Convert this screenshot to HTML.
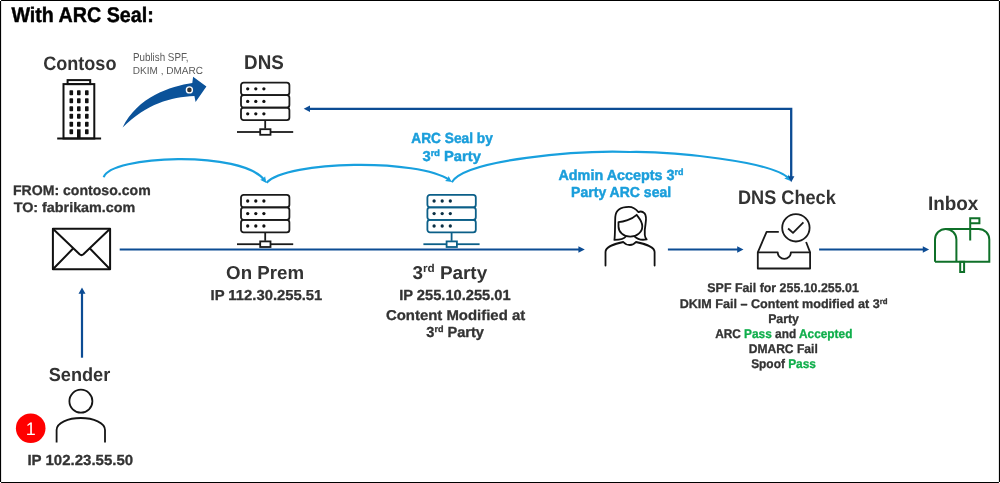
<!DOCTYPE html>
<html><head><meta charset="utf-8">
<style>
html,body{margin:0;padding:0;background:#fff;}
body{width:1000px;height:483px;overflow:hidden;position:relative;}
svg{position:absolute;left:0;top:0;will-change:transform;}
text{font-family:"Liberation Sans",sans-serif;text-rendering:geometricPrecision;}
</style></head>
<body>
<svg width="1000" height="483" viewBox="0 0 1000 483">
<defs>
  <g id="srv">
    <g fill="none" stroke-width="1.8">
    <rect x="0.9" y="0.9" width="48.4" height="12.5" rx="2.6"/>
    <rect x="0.9" y="13.4" width="48.4" height="12.5" rx="2.6"/>
    <rect x="0.9" y="25.9" width="48.4" height="12.5" rx="2.6"/>
    <line x1="25.1" y1="39" x2="25.1" y2="46.8"/>
    <line x1="-3.1" y1="50.2" x2="20" y2="50.2"/>
    <line x1="30.4" y1="50.2" x2="53.1" y2="50.2"/>
    <rect x="20.1" y="47.4" width="10.3" height="5.6"/>
    </g>
    <g stroke="none" class="dots"><circle cx="7.6" cy="7.0" r="1.65"/><circle cx="15.7" cy="7.0" r="1.65"/><circle cx="23.8" cy="7.0" r="1.65"/><circle cx="7.6" cy="19.6" r="1.65"/><circle cx="15.7" cy="19.6" r="1.65"/><circle cx="23.8" cy="19.6" r="1.65"/><circle cx="7.6" cy="32.0" r="1.65"/><circle cx="15.7" cy="32.0" r="1.65"/><circle cx="23.8" cy="32.0" r="1.65"/></g>
  </g>
  </defs>

<!-- border -->
<path d="M0,0 H1000 V1.1 H0 Z M0,481.9 H1000 V483 H0 Z M0,0 V483 H1.1 V0 Z M998.9,0 V483 H1000 V0 Z" fill="#000"/>

<!-- title -->

<!-- Contoso -->
<g fill="none" stroke="#111" stroke-width="2">
  <rect x="63.5" y="84.1" width="30.8" height="54.4"/>
  <rect x="67.6" y="80.1" width="22.6" height="4"/>
  <line x1="57.2" y1="138.5" x2="101.1" y2="138.5"/>
</g>
<g fill="#111"><rect x="69.5" y="90.2" width="3.6" height="5" rx="0.7"/><rect x="77.0" y="90.2" width="3.6" height="5" rx="0.7"/><rect x="85.0" y="90.2" width="3.6" height="5" rx="0.7"/><rect x="69.5" y="98.2" width="3.6" height="5" rx="0.7"/><rect x="77.0" y="98.2" width="3.6" height="5" rx="0.7"/><rect x="85.0" y="98.2" width="3.6" height="5" rx="0.7"/><rect x="69.5" y="106.2" width="3.6" height="5" rx="0.7"/><rect x="77.0" y="106.2" width="3.6" height="5" rx="0.7"/><rect x="85.0" y="106.2" width="3.6" height="5" rx="0.7"/><rect x="69.5" y="113.8" width="3.6" height="5" rx="0.7"/><rect x="77.0" y="113.8" width="3.6" height="5" rx="0.7"/><rect x="85.0" y="113.8" width="3.6" height="5" rx="0.7"/><rect x="69.5" y="121.7" width="3.6" height="5" rx="0.7"/><rect x="77.0" y="121.7" width="3.6" height="5" rx="0.7"/><rect x="85.0" y="121.7" width="3.6" height="5" rx="0.7"/><rect x="69.5" y="129.3" width="3.6" height="5" rx="0.7"/><rect x="85.0" y="129.3" width="3.6" height="5" rx="0.7"/><rect x="77" y="129.3" width="3.6" height="9.2"/></g>

<!-- publish text + arrow -->
<path d="M122.6,127.6 C137.2,97 170.7,86.1 192.3,83 L193.1,76.8 L206.4,86.6 L195.6,101.9 L194.4,96.1 C170.2,97.5 147.5,103.3 122.6,127.6 Z" fill="#0b5299"/>
<circle cx="189.4" cy="89.9" r="3" fill="#333" stroke="#fff" stroke-width="1.4"/>

<!-- DNS -->
<use href="#srv" x="240.1" y="81.8" stroke="#1a1a1a" fill="#111"/>

<!-- light blue arcs -->
<g fill="none" stroke="#18a0de" stroke-width="2.2">
  <path d="M103.7,177.3 C109.9,155.4 242.2,149.7 264.7,180.4"/>
  <path d="M266.5,182.8 C287.0,160.4 419.0,158.5 449.5,180.1"/>
  <path d="M451.8,182.2 C465.3,159.4 578.2,150.2 630.0,152.0 C671.1,151.3 773.2,161.1 789.0,178.6"/>
</g>
<path d="M260.1,179.8 L266.3,183.0 L265.1,176.2 L263.2,178.8 Z M445.0,180.9 L451.8,182.0 L448.6,175.9 L447.6,179.0 Z M784.2,178.4 L790.6,181.1 L788.9,174.4 L787.2,177.2 Z" fill="#18a0de"/>

<!-- return arrow DNS check -> DNS -->
<path d="M791.2,177 V108.8 H308" fill="none" stroke="#0c4c94" stroke-width="2.3"/>
<path d="M310,105.6 L303.7,108.8 L310,112 Z M788,176.2 L791.2,182.2 L794.4,176.2 Z" fill="#0c4c94"/>

<!-- ARC Seal by 3rd party -->

<!-- FROM / TO -->

<!-- envelope -->
<g fill="none" stroke="#111" stroke-width="2" stroke-linejoin="round">
  <rect x="52.9" y="228.8" width="57.2" height="40.5"/>
  <path d="M52.9,228.8 L79.6,254.3 Q81.5,256 83.4,254.3 L110.1,228.8"/>
  <path d="M52.9,269.3 L73.3,248.3 M110.1,269.3 L89.7,248.3"/>
</g>

<!-- main blue line & arrows -->
<g fill="none" stroke="#0c4c94" stroke-width="2.2">
  <path d="M119.7,249.5 H580"/>
  <path d="M667.9,249.5 H738"/>
  <path d="M819.1,249.5 H924"/>
  <path d="M82,357.7 V292"/>
</g>
<path d="M578.4,246.3 L584.8,249.5 L578.4,252.7 Z M737.2,246.3 L743.5,249.5 L737.2,252.7 Z M922.8,246.3 L929.1,249.5 L922.8,252.7 Z M78.5,293.8 L82,287.5 L85.5,293.8 Z" fill="#0c4c94"/>

<!-- On prem server -->
<use href="#srv" x="240.1" y="194" stroke="#1a1a1a" fill="#111"/>
<!-- 3rd party server -->
<use href="#srv" x="426.5" y="194" stroke="#0b5f88" fill="#0a2f44"/>



<!-- Admin accepts -->

<!-- woman -->
<g fill="none" stroke="#111" stroke-width="1.8" stroke-linejoin="round" stroke-linecap="round">
  <path d="M625.8,236.4 C624.3,238.6 619.8,239.7 614.4,239.9 C615.2,236 614.9,224 615.3,216.7 C615.8,210.5 620.5,206.8 628.9,206.8 C632.8,206.8 636.2,209.3 638.5,212.1 C640.3,211.2 642.8,211.6 644.6,213.4 C646.3,215.5 646.2,219.5 645.6,223.5 C645,227 644.5,231 644.8,235 C645,237 645.6,238.5 646.7,239.4 C642.5,240.2 637.5,239.5 634.4,236.4"/>
  <path d="M618.5,222.1 C623.5,222 631.5,219.5 636.7,214.8 C637.5,216.5 642.3,220.5 642.3,226.2 C642.3,232 637,236.7 630.2,236.7 C623.5,236.7 618.5,232 618.5,226.5 Z"/>
  <path d="M605.5,265.5 V252 C605.5,247.5 614,243.8 623.3,242 C625,244 627.3,245 629.8,245 C632.3,245 634.3,244 635.9,242 C645,243.8 654.6,247.5 654.6,252 V265.5"/>
</g>

<!-- DNS Check -->
<g fill="none" stroke="#1a1a1a" stroke-width="1.8" stroke-linejoin="round">
  <circle cx="795.9" cy="227.8" r="13.7"/>
  <path d="M788.1,228.5 L793,232.9 L803.4,222.3"/>
  <path d="M778.8,231.8 H766.6 L757.8,252.3 V268.5 H810.1 V252.3 L806.1,242"/>
  <path d="M757.8,252.3 H777.7 A6.6,6.6 0 0 0 790.9,252.3 H810.1"/>
</g>

<!-- Inbox -->
<g fill="none" stroke="#0f7029" stroke-width="2">
  <path d="M935,261.8 V239.6 A10.7,10.7 0 0 1 956.4,239.6 V261.8"/>
  <path d="M945.7,228.9 H978.6 A10.7,10.7 0 0 1 989.3,239.6 V261.8 H935"/>
  <rect x="960.2" y="261.8" width="3.9" height="10.2"/>
  <path d="M970.2,240.5 V218.3 H979.4 V223.2 H970.2"/>
</g>

<!-- status text -->

<!-- sender -->
<g fill="none" stroke="#151515" stroke-width="1.8">
  <circle cx="80.9" cy="401.2" r="11.5"/>
  <path d="M56.6,442.6 V430 C56.6,423 68,418 80.8,418 C93.6,418 105,423 105,430 V442.6"/>
</g>
<circle cx="30.7" cy="428.3" r="14.8" fill="#ff0000"/>


<text id="title" x="11.46" y="21.80" font-size="21.20" font-weight="bold" fill="#000" stroke="#000" stroke-width="0.45" stroke-linejoin="round" textLength="142.27" lengthAdjust="spacingAndGlyphs">With ARC Seal:</text>
<text id="contoso" x="43.14" y="70.42" font-size="19.53" font-weight="bold" fill="#333333" textLength="73.35" lengthAdjust="spacingAndGlyphs">Contoso</text>
<text id="pub1" x="132.93" y="61.43" font-size="11.51" font-weight="normal" fill="#595959" textLength="55.65" lengthAdjust="spacingAndGlyphs">Publish SPF,</text>
<text id="pub2" x="132.85" y="73.62" font-size="10.35" font-weight="normal" fill="#595959" textLength="70.20" lengthAdjust="spacingAndGlyphs">DKIM , DMARC</text>
<text id="dns" x="244.05" y="69.10" font-size="19.84" font-weight="bold" fill="#333333" textLength="39.72" lengthAdjust="spacingAndGlyphs">DNS</text>
<text id="arc1" x="411.31" y="143.18" font-size="14.63" font-weight="bold" fill="#1a9edb" stroke="#1a9edb" stroke-width="0.45" stroke-linejoin="round" textLength="81.56" lengthAdjust="spacingAndGlyphs">ARC Seal by</text>
<text id="arc2" x="422.53" y="161.00" font-size="14.41" font-weight="bold" fill="#1a9edb" stroke="#1a9edb" stroke-width="0.45" stroke-linejoin="round" textLength="58.41" lengthAdjust="spacingAndGlyphs">3<tspan font-size="0.62em" dy="-0.56em">rd</tspan><tspan dy="0.35em"> Party</tspan></text>
<text id="from" x="12.92" y="195.25" font-size="13.92" font-weight="bold" fill="#333333" stroke="#333333" stroke-width="0.30" stroke-linejoin="round" textLength="137.75" lengthAdjust="spacingAndGlyphs">FROM: contoso.com</text>
<text id="to" x="13.66" y="212.49" font-size="13.73" font-weight="bold" fill="#333333" stroke="#333333" stroke-width="0.30" stroke-linejoin="round" textLength="121.64" lengthAdjust="spacingAndGlyphs">TO: fabrikam.com</text>
<text id="onprem" x="226.12" y="279.16" font-size="18.77" font-weight="bold" fill="#333333" textLength="77.93" lengthAdjust="spacingAndGlyphs">On Prem</text>
<text id="ip1" x="210.52" y="300.27" font-size="14.41" font-weight="bold" fill="#333333" stroke="#333333" stroke-width="0.30" stroke-linejoin="round" textLength="111.81" lengthAdjust="spacingAndGlyphs">IP 112.30.255.51</text>
<text id="third" x="412.40" y="278.74" font-size="18.54" font-weight="bold" fill="#333333" textLength="74.80" lengthAdjust="spacingAndGlyphs">3<tspan font-size="0.62em" dy="-0.56em">rd</tspan><tspan dy="0.35em"> Party</tspan></text>
<text id="ip2" x="399.15" y="299.63" font-size="14.59" font-weight="bold" fill="#333333" stroke="#333333" stroke-width="0.30" stroke-linejoin="round" textLength="111.56" lengthAdjust="spacingAndGlyphs">IP 255.10.255.01</text>
<text id="content" x="385.98" y="319.87" font-size="14.26" font-weight="bold" fill="#333333" stroke="#333333" stroke-width="0.30" stroke-linejoin="round" textLength="139.20" lengthAdjust="spacingAndGlyphs">Content Modified at</text>
<text id="third2" x="426.28" y="337.22" font-size="14.63" font-weight="bold" fill="#333333" stroke="#333333" stroke-width="0.30" stroke-linejoin="round" textLength="57.72" lengthAdjust="spacingAndGlyphs">3<tspan font-size="0.62em" dy="-0.56em">rd</tspan><tspan dy="0.35em"> Party</tspan></text>
<text id="admin1" x="558.45" y="179.58" font-size="14.61" font-weight="bold" fill="#1a9edb" stroke="#1a9edb" stroke-width="0.45" stroke-linejoin="round" textLength="125.07" lengthAdjust="spacingAndGlyphs">Admin Accepts 3<tspan font-size="0.62em" dy="-0.56em">rd</tspan></text>
<text id="admin2" x="571.11" y="197.38" font-size="14.46" font-weight="bold" fill="#1a9edb" stroke="#1a9edb" stroke-width="0.45" stroke-linejoin="round" textLength="100.04" lengthAdjust="spacingAndGlyphs">Party ARC seal</text>
<text id="dnscheck" x="738.03" y="204.20" font-size="19.62" font-weight="bold" fill="#333333" textLength="97.76" lengthAdjust="spacingAndGlyphs">DNS Check</text>
<text id="inbox" x="927.89" y="210.10" font-size="19.62" font-weight="bold" fill="#333333" textLength="50.48" lengthAdjust="spacingAndGlyphs">Inbox</text>
<text id="s1" x="707.36" y="292.00" font-size="12.60" font-weight="bold" fill="#333333" stroke="#333333" stroke-width="0.30" stroke-linejoin="round" textLength="151.46" lengthAdjust="spacingAndGlyphs">SPF Fail for 255.10.255.01</text>
<text id="s2" x="679.69" y="308.00" font-size="12.60" font-weight="bold" fill="#333333" stroke="#333333" stroke-width="0.30" stroke-linejoin="round" textLength="207.81" lengthAdjust="spacingAndGlyphs">DKIM Fail – Content modified at 3<tspan font-size="0.62em" dy="-0.56em">rd</tspan></text>
<text id="s3" x="768.13" y="323.00" font-size="12.60" font-weight="bold" fill="#333333" stroke="#333333" stroke-width="0.30" stroke-linejoin="round" textLength="30.84" lengthAdjust="spacingAndGlyphs">Party</text>
<text id="s4" x="715.13" y="338.00" font-size="12.60" font-weight="bold" fill="#333333" stroke="#333333" stroke-width="0.30" stroke-linejoin="round" textLength="137.28" lengthAdjust="spacingAndGlyphs">ARC <tspan fill="#0fae4b" stroke="#0fae4b">Pass</tspan> and <tspan fill="#0fae4b" stroke="#0fae4b">Accepted</tspan></text>
<text id="s5" x="748.68" y="353.00" font-size="12.60" font-weight="bold" fill="#333333" stroke="#333333" stroke-width="0.30" stroke-linejoin="round" textLength="69.07" lengthAdjust="spacingAndGlyphs">DMARC Fail</text>
<text id="s6" x="751.16" y="368.00" font-size="12.60" font-weight="bold" fill="#333333" stroke="#333333" stroke-width="0.30" stroke-linejoin="round" textLength="64.82" lengthAdjust="spacingAndGlyphs">Spoof <tspan fill="#0fae4b" stroke="#0fae4b">Pass</tspan></text>
<text id="sender" x="48.74" y="380.69" font-size="18.96" font-weight="bold" fill="#333333" textLength="61.48" lengthAdjust="spacingAndGlyphs">Sender</text>
<text id="ip3" x="27.44" y="464.51" font-size="14.55" font-weight="bold" fill="#333333" stroke="#333333" stroke-width="0.30" stroke-linejoin="round" textLength="105.66" lengthAdjust="spacingAndGlyphs">IP 102.23.55.50</text>
<text id="badge" x="25.81" y="434.50" font-size="18.03" font-weight="normal" fill="#fff" textLength="9.98" lengthAdjust="spacingAndGlyphs">1</text>
</svg>
</body></html>
